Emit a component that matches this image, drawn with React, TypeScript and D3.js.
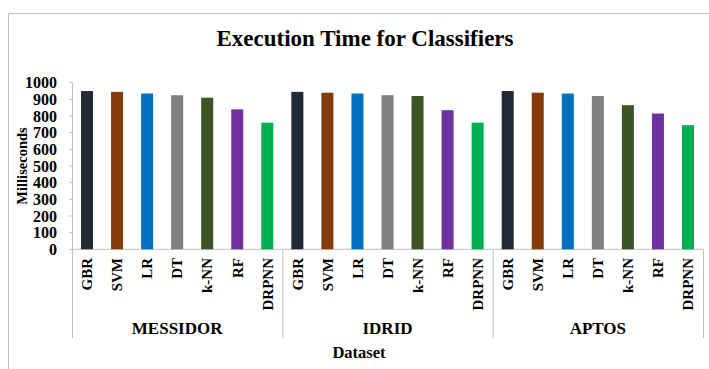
import React from "react";
import * as d3 from "d3";

const datasets = ["MESSIDOR", "IDRID", "APTOS"];
const classifiers = ["GBR", "SVM", "LR", "DT", "k-NN", "RF", "DRPNN"];
const messidor = [950, 945, 935, 925, 910, 840, 760];
const idrid = [945, 940, 935, 925, 920, 835, 760];
const aptos = [950, 940, 935, 920, 865, 815, 745];
const colors = ["#222a35", "#843c0c", "#0070c0", "#7f7f7f", "#3b5524", "#7030a0", "#00b050"];
const yTicks = [0, 100, 200, 300, 400, 500, 600, 700, 800, 900, 1000];

const W = 709;
const H = 369;
const FONT = "'Liberation Serif', 'Times New Roman', serif";

export default function App() {
  const values = [messidor, idrid, aptos];
  const left = 72;
  const right = 703;
  const y = d3.scaleLinear().domain([0, 1000]).range([249.3, 82.7]);
  const x0 = d3.scaleBand<string>().domain(datasets).range([left, right]).padding(0);
  const x1 = d3
    .scaleBand<string>()
    .domain(classifiers)
    .range([0, x0.bandwidth()])
    .paddingInner(0.6)
    .paddingOuter(0.3);
  const base = y(0);
  const axisColor = "#bfbfbf";

  return (
    <div style={{ position: "absolute", left: 0, top: 0 }}>
      <svg width={W} height={H} style={{ display: "block", background: "#fff" }}>
        {/* outer frame */}
        <line x1={8.5} y1={13.5} x2={W} y2={13.5} stroke={axisColor} strokeWidth={1} />
        <line x1={8.5} y1={13.5} x2={8.5} y2={H} stroke={axisColor} strokeWidth={1} />

        <text
          x={365}
          y={46}
          textAnchor="middle"
          fontFamily={FONT}
          fontWeight="bold"
          fontSize={23}
          fill="#000"
        >
          Execution Time for Classifiers
        </text>

        {/* y axis */}
        <line x1={left + 0.5} y1={y(1000)} x2={left + 0.5} y2={338} stroke={axisColor} />
        {yTicks.map((t) => (
          <g key={t}>
            <line x1={left - 3} x2={left} y1={y(t)} y2={y(t)} stroke={axisColor} />
            <text
              x={57}
              y={y(t)}
              dy="0.35em"
              textAnchor="end"
              fontFamily={FONT}
              fontWeight="bold"
              fontSize={16}
              fill="#000"
            >
              {t}
            </text>
          </g>
        ))}
        <text
          transform={`translate(27,166) rotate(-90)`}
          textAnchor="middle"
          fontFamily={FONT}
          fontWeight="bold"
          fontSize={14.5}
          fill="#000"
        >
          Milliseconds
        </text>

        {/* baseline */}
        <line x1={left} x2={right} y1={base} y2={base} stroke={axisColor} />

        {/* bars */}
        {datasets.map((ds, gi) => (
          <g key={ds} transform={`translate(${x0(ds)},0)`}>
            {classifiers.map((c, ci) => {
              const v = values[gi][ci];
              return (
                <rect
                  key={c}
                  x={x1(c)}
                  y={y(v)}
                  width={x1.bandwidth()}
                  height={base - y(v)}
                  fill={colors[ci]}
                />
              );
            })}
            {classifiers.map((c) => (
              <text
                key={c + "l"}
                transform={`translate(${(x1(c) as number) + x1.bandwidth() / 2},258) rotate(-90)`}
                dy="0.35em"
                textAnchor="end"
                fontFamily={FONT}
                fontWeight="bold"
                fontSize={15}
                fill="#000"
              >
                {c}
              </text>
            ))}
            <text
              x={x0.bandwidth() / 2}
              y={334}
              textAnchor="middle"
              fontFamily={FONT}
              fontWeight="bold"
              fontSize={17}
              fill="#000"
            >
              {ds}
            </text>
          </g>
        ))}
        {/* group separators */}
        {[...datasets.map((d) => x0(d) as number), right].map((sx, i) => (
          <line key={i} x1={sx + 0.5} x2={sx + 0.5} y1={base} y2={338} stroke={axisColor} />
        ))}

        <text
          x={359}
          y={358}
          textAnchor="middle"
          fontFamily={FONT}
          fontWeight="bold"
          fontSize={16.5}
          fill="#000"
        >
          Dataset
        </text>
      </svg>
    </div>
  );
}
